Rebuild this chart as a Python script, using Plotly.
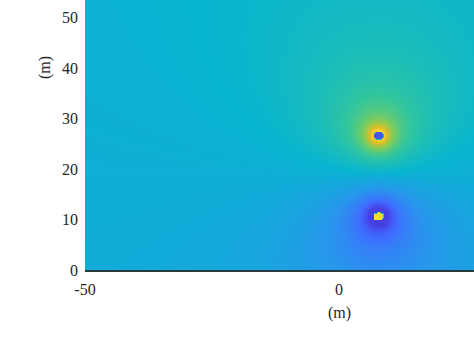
import numpy as np
import plotly.graph_objects as go

# ---- data ----
source_x = [7.7, 7.7]             # m
source_y = [26.7, 10.7]           # m
near_strength = [0.58, -0.58]     # near-field amplitude (colour units * m)
far_strength = [0.1, -0.1]        # broad (far-field) amplitude (colour units)
core_value = [0.15, 0.93]         # colour value inside each source core
core_halfwidth = [1.0, 1.0]       # m
core_halfheight = [0.75, 0.75]    # m
background_level = 0.42
colour_floor = 0.09               # darkest colour value reached around the lower source

x_ticks = [-50, 0, 50]
y_ticks = [0, 10, 20, 30, 40, 50]
x_range = [-50, 26.6]
y_range = [0, 53.5]

# parula colormap anchors
parula = [
    (0.2422, 0.1504, 0.6603), (0.2803, 0.2782, 0.9221), (0.2440, 0.4358, 0.9988),
    (0.1540, 0.5902, 0.9218), (0.0297, 0.7082, 0.8163), (0.1938, 0.7758, 0.6251),
    (0.5044, 0.7993, 0.3480), (0.8634, 0.7406, 0.1596), (0.9892, 0.8136, 0.1885),
    (0.9769, 0.9839, 0.0805),
]
colorscale = [[i / (len(parula) - 1), "rgb(%d,%d,%d)" % tuple(round(c * 255) for c in p)]
              for i, p in enumerate(parula)]

# ---- field grid ----
gx = np.arange(-50, 27.01, 0.3)
gy = np.arange(0, 53.71, 0.3)
X, Y = np.meshgrid(gx, gy)
Z = np.full_like(X, background_level)
for sx, sy, a, b in zip(source_x, source_y, near_strength, far_strength):
    r2 = (X - sx) ** 2 + (Y - sy) ** 2
    Z += a / np.sqrt(r2 + 1.0)
    Z -= b * 0.5 * np.log(r2 + 36.0)
Z = np.clip(Z, colour_floor, 1)
for sx, sy, cv, hw, hh in zip(source_x, source_y, core_value, core_halfwidth, core_halfheight):
    m = ((X - sx) / hw) ** 2 + ((Y - sy) / hh) ** 2 <= 1
    Z[m] = cv

fig = go.Figure(go.Heatmap(x=gx, y=gy, z=Z, colorscale=colorscale, zmin=0, zmax=1,
                           zsmooth="best", showscale=False, hoverinfo="skip"))

font = dict(family="Liberation Serif, Times New Roman, serif", size=16, color="#262626")
PL, PT, PW, PH = 85, 0, 389, 270  # plot area in pixels


def px_to_paper(xp, yp):
    return (xp - PL) / PW, (PT + PH - yp) / PH


ylab = px_to_paper(45, 68)
xlab = px_to_paper(339, 313)
fig.update_layout(
    width=474, height=355, margin=dict(l=85, r=0, t=0, b=85),
    paper_bgcolor="white", plot_bgcolor="white", font=font, showlegend=False,
    xaxis=dict(range=x_range, tickvals=x_ticks, ticktext=[str(v) for v in x_ticks],
               showgrid=False, zeroline=False, showline=True, linecolor="#263a40",
               linewidth=1.5, ticks="", ticklabelstandoff=4),
    yaxis=dict(range=y_range, tickvals=y_ticks, ticktext=[str(v) for v in y_ticks],
               showgrid=False, zeroline=False, showline=False, ticks="",
               ticklabelstandoff=6),
    annotations=[
        dict(text="(m)", x=ylab[0], y=ylab[1], xref="paper", yref="paper", showarrow=False,
             textangle=-90, xanchor="center", yanchor="middle", font=font),
        dict(text="(m)", x=xlab[0], y=xlab[1], xref="paper", yref="paper", showarrow=False,
             xanchor="center", yanchor="middle", font=font),
    ],
)

fig.write_html("out.html")
